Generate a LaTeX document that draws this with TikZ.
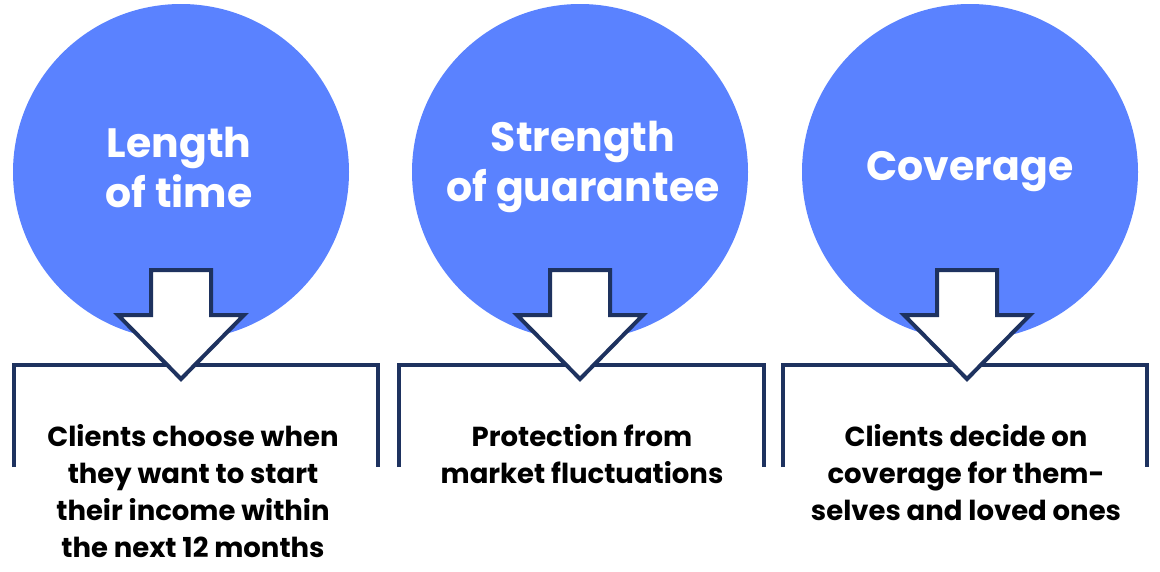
\documentclass[tikz,border=0pt]{standalone}
\usepackage{fontspec}
\setmainfont{Poppins}
\definecolor{circblue}{RGB}{90,130,255}
\definecolor{navy}{RGB}{30,50,95}
\tikzset{
  bubble/.style={circle,fill=circblue,minimum size=336pt,inner sep=0pt},
  bubbletext/.style={text=white,font=\fontsize{41}{50}\selectfont\bfseries,align=center},
  bodytext/.style={text=black,font=\fontsize{27.5}{37}\selectfont\bfseries,align=center},
  bracket/.style={draw=navy,line width=4pt},
  downarrow/.style={draw=navy,fill=white,line width=4pt,line join=miter}
}
\begin{document}
\begin{tikzpicture}[x=1pt,y=-1pt]
\useasboundingbox (0,0) rectangle (1160,571);
% circles
\node[bubble] (c1) at (181,172) {};
\node[bubble] (c2) at (580,172) {};
\node[bubble] (c3) at (970,172) {};
\node[bubbletext] (t1) at (179,167) {Length\\of time};
\node[bubbletext] (t2) at (583,167) {Strength\\of guarantee};
\node[bubbletext] (t3) at (970,172) {Coverage};
% brackets
\draw[bracket] (14,467) -- (14,365) -- (378,365) -- (378,467);
\draw[bracket] (399,467) -- (399,365) -- (764,365) -- (764,467);
\draw[bracket] (783,467) -- (783,365) -- (1147,365) -- (1147,467);
% arrows
\foreach \cx in {181,580,967}{
  \draw[downarrow] (\cx-30,270) -- (\cx+30,270) -- (\cx+30,315) -- (\cx+63,315)
    -- (\cx,379) -- (\cx-63,315) -- (\cx-30,315) -- cycle;
}
% texts
\node[bodytext] (b1) at (193,491) {Clients choose when\\they want to start\\their income within\\the next 12 months};
\node[bodytext] (b2) at (582,454) {Protection from\\market fluctuations};
\node[bodytext] (b3) at (966,473) {Clients decide on\\coverage for them-\\selves and loved ones};
\end{tikzpicture}
\end{document}
